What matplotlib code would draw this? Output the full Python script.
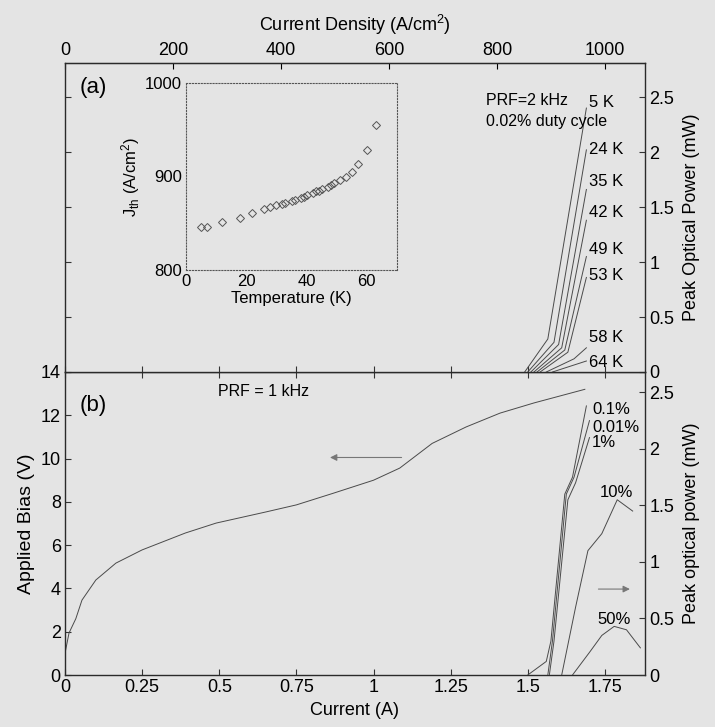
import matplotlib
matplotlib.use('Agg')
import matplotlib.pyplot as plt
import numpy as np

plt.rcParams['font.family'] = ['Liberation Sans', 'DejaVu Sans']
plt.rcParams['mathtext.default'] = 'regular'

BG = '#e4e4e4'
LC = '#4a4a4a'

# (a) light-current curves at different temperatures, PRF = 2 kHz
temps = ['5 K', '24 K', '35 K', '42 K', '49 K', '53 K', '58 K', '64 K']
li_cur = [
    [1.49, 1.565, 1.69],
    [1.50, 1.585, 1.69],
    [1.51, 1.60, 1.69],
    [1.52, 1.61, 1.69],
    [1.53, 1.62, 1.69],
    [1.54, 1.63, 1.69],
    [1.56, 1.65, 1.69],
    [1.58, 1.69],
]
li_pow = [
    [0.0, 0.30, 2.40],
    [0.0, 0.27, 2.02],
    [0.0, 0.25, 1.66],
    [0.0, 0.22, 1.38],
    [0.0, 0.20, 1.05],
    [0.0, 0.18, 0.86],
    [0.0, 0.12, 0.22],
    [0.0, 0.10],
]
temp_label_y = [2.45, 2.02, 1.73, 1.45, 1.11, 0.88, 0.31, 0.09]

# inset: threshold current density vs temperature
t_inset = [5, 7, 12, 18, 22, 26, 28, 30, 32, 33, 35, 36, 38, 39, 40, 42, 43, 44,
           45, 47, 48, 49, 51, 53, 55, 57, 60, 63]
jth = [846, 846, 851, 856, 861, 865, 867, 869, 871, 872, 874, 875, 877, 878, 880,
       882, 884, 885, 887, 889, 891, 893, 896, 900, 905, 913, 928, 955]

# (b) bias vs current
iv_cur = [0.0, 0.013, 0.035, 0.055, 0.10, 0.165, 0.25, 0.39, 0.49, 0.65, 0.75, 0.87,
          1.0, 1.085, 1.19, 1.30, 1.41, 1.52, 1.685]
iv_volt = [1.0, 1.94, 2.6, 3.46, 4.39, 5.17, 5.78, 6.56, 7.02, 7.53, 7.86, 8.4,
           9.0, 9.56, 10.7, 11.46, 12.1, 12.57, 13.2]

# (b) light-current at different duty cycles, PRF = 1 kHz
duty = ['0.1%', '0.01%', '1%', '10%', '50%']
dc_cur = [
    [1.50, 1.56, 1.575, 1.62, 1.645, 1.69],
    [1.565, 1.58, 1.625, 1.65, 1.70],
    [1.57, 1.585, 1.63, 1.655, 1.70],
    [1.61, 1.655, 1.695, 1.74, 1.79, 1.84],
    [1.645, 1.70, 1.74, 1.78, 1.82, 1.865],
]
dc_pow = [
    [0.0, 0.12, 0.30, 1.60, 1.75, 2.38],
    [0.0, 0.30, 1.60, 1.75, 2.25],
    [0.0, 0.30, 1.55, 1.70, 2.10],
    [0.0, 0.60, 1.10, 1.25, 1.55, 1.45],
    [0.0, 0.20, 0.35, 0.43, 0.40, 0.24],
]
duty_label_xy = [(1.708, 2.35), (1.708, 2.19), (1.708, 2.06), (1.734, 1.61), (1.727, 0.49)]

W, H = 715, 727
fig = plt.figure(figsize=(W / 100, H / 100), dpi=100, facecolor=BG)

def frac(x0, y0, x1, y1):
    return [x0 / W, 1 - y1 / H, (x1 - x0) / W, (y1 - y0) / H]

def style(ax):
    ax.set_facecolor(BG)
    for s in ax.spines.values():
        s.set_color('#2a2a2a')
        s.set_linewidth(1.0)
    ax.tick_params(direction='in', length=4, width=0.8, color='#333',
                   labelsize=13, pad=3)

# ---------------- panel (a)
axa = fig.add_axes(frac(65, 63, 645, 372))
style(axa)
for c, p in zip(li_cur, li_pow):
    axa.plot(c, p, color=LC, lw=0.7)
for lab, y in zip(temps, temp_label_y):
    axa.text(1.698, y, lab, fontsize=12, ha='left', va='center')
axa.set_xlim(0, 1.88)
axa.set_ylim(0, 2.81)
axa.set_xticks([0, 0.25, 0.5, 0.75, 1, 1.25, 1.5, 1.75])
axa.tick_params(axis='x', labelbottom=False)
axa.set_yticks([0, 0.5, 1, 1.5, 2, 2.5])
axa.set_yticklabels(['0', '0.5', '1', '1.5', '2', '2.5'])
axa.yaxis.tick_right()
axa.tick_params(axis='y', left=True, right=True, labelleft=False, labelright=True)
axa.yaxis.set_label_position('right')
axa.set_ylabel('Peak Optical Power (mW)', fontsize=13, labelpad=6)
axa.text(0.025, 0.92, '(a)', transform=axa.transAxes, fontsize=16, va='center')
axa.text(0.725, 0.88, 'PRF=2 kHz', transform=axa.transAxes, fontsize=11.5, va='center')
axa.text(0.725, 0.81, '0.02% duty cycle', transform=axa.transAxes, fontsize=11.5,
         va='center')

sec = axa.secondary_xaxis('top', functions=(lambda i: i * 1000 / 1.75,
                                             lambda j: j * 1.75 / 1000))
sec.set_xticks([0, 200, 400, 600, 800, 1000])
sec.tick_params(direction='in', length=4, width=0.8, labelsize=13, pad=3)
sec.set_xlabel('Current Density (A/cm$^2$)', fontsize=13, labelpad=8)
axa.tick_params(axis='x', top=False)

# inset
axi = fig.add_axes(frac(186, 83, 397, 270))
axi.set_facecolor(BG)
for s in axi.spines.values():
    s.set_color('#555')
    s.set_linewidth(0.8)
    s.set_linestyle(':')
axi.plot(t_inset, jth, ls='none', marker='D', ms=4.5, mfc='none', mec='#555',
         mew=0.7)
axi.set_xlim(0, 70)
axi.set_ylim(800, 1000)
axi.set_xticks([0, 20, 40, 60])
axi.set_yticks([800, 900, 1000])
axi.tick_params(direction='in', length=0, labelsize=12, pad=3)
axi.set_xlabel('Temperature (K)', fontsize=12, labelpad=1)
axi.set_ylabel(r'J$_{th}$ (A/cm$^2$)', fontsize=12, labelpad=2)

# ---------------- panel (b)
axb = fig.add_axes(frac(65, 372, 645, 675))
style(axb)
axb.plot(iv_cur, iv_volt, color=LC, lw=0.7)
axb.set_xlim(0, 1.88)
axb.set_ylim(0, 14)
axb.set_xticks([0, 0.25, 0.5, 0.75, 1, 1.25, 1.5, 1.75])
axb.set_xticklabels(['0', '0.25', '0.5', '0.75', '1', '1.25', '1.5', '1.75'])
axb.set_yticks([0, 2, 4, 6, 8, 10, 12, 14])
axb.tick_params(axis='x', top=True)
axb.set_xlabel('Current (A)', fontsize=13, labelpad=4)
axb.set_ylabel('Applied Bias (V)', fontsize=14, labelpad=4)
axb.text(0.025, 0.89, '(b)', transform=axb.transAxes, fontsize=16, va='center')
axb.text(0.263, 0.935, 'PRF = 1 kHz', transform=axb.transAxes, fontsize=11.5,
         va='center')
axb.annotate('', xy=(0.85, 10.05), xytext=(1.1, 10.05),
             arrowprops=dict(arrowstyle='-|>', color='#777', lw=0.8,
                             mutation_scale=10))

axp = axb.twinx()
axp.set_ylim(0, 2.68)
for s in axp.spines.values():
    s.set_visible(False)
axp.tick_params(direction='in', length=4, width=0.8, color='#333', labelsize=13, pad=3)
for c, p in zip(dc_cur, dc_pow):
    axp.plot(c, p, color=LC, lw=0.7)
for lab, (x, y) in zip(duty, duty_label_xy):
    axp.text(x, y, lab, fontsize=12, ha='left', va='center')
axp.set_yticks([0, 0.5, 1, 1.5, 2, 2.5])
axp.set_yticklabels(['0', '0.5', '1', '1.5', '2', '2.5'])
axp.set_ylabel('Peak optical power (mW)', fontsize=13, labelpad=6)
axp.annotate('', xy=(1.84, 0.76), xytext=(1.72, 0.76),
             arrowprops=dict(arrowstyle='-|>', color='#777', lw=0.8,
                             mutation_scale=10))
axb.set_zorder(axp.get_zorder() - 1)

fig.savefig('out.png', dpi=100, facecolor=BG)
